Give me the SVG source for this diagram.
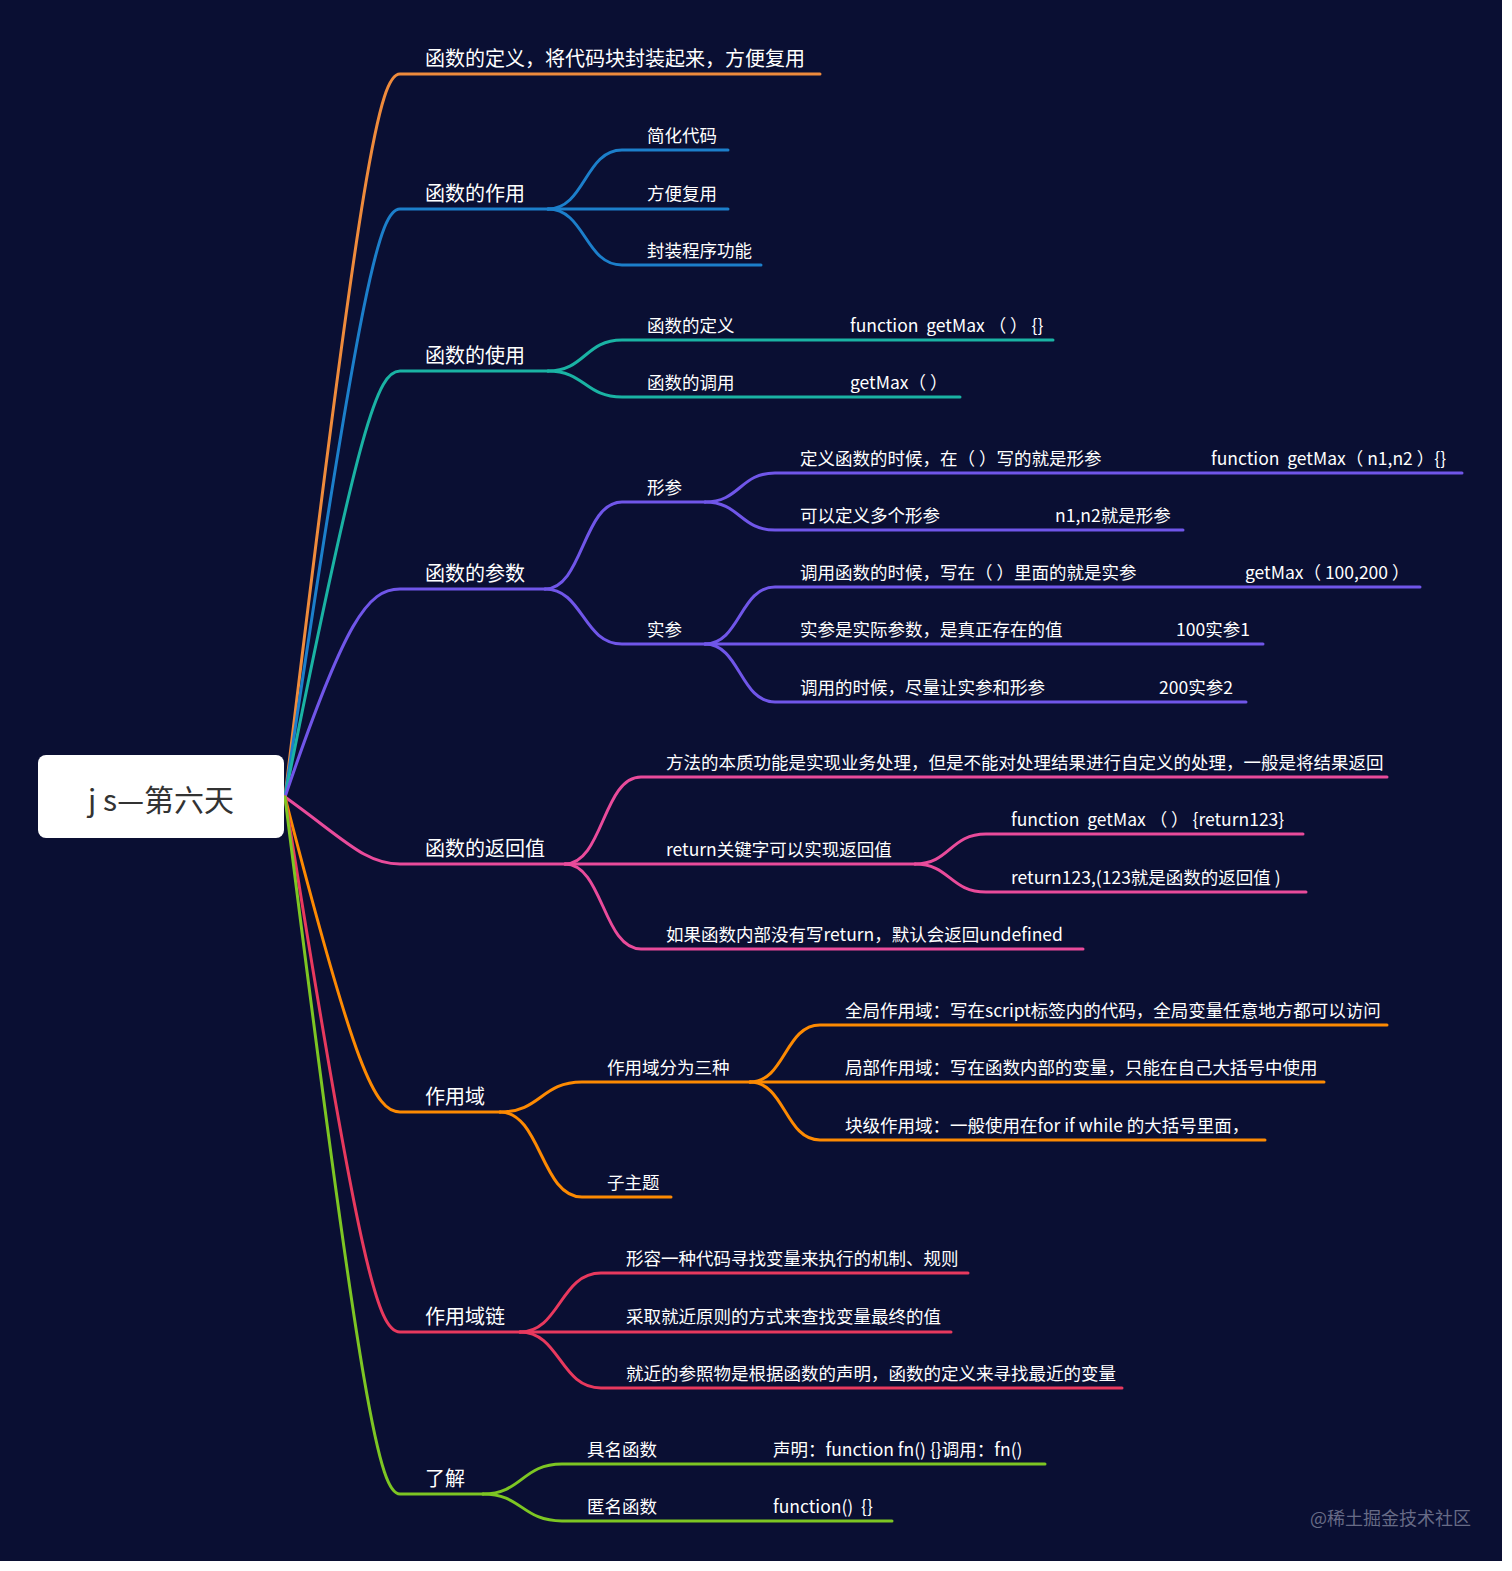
<svg xmlns="http://www.w3.org/2000/svg" width="1512" height="1571" viewBox="0 0 1512 1571">
<style>
text{font-family:"Noto Sans CJK SC","Noto Sans",sans-serif;fill:#ffffff;white-space:pre}
.l1{font-size:20px}
.l2{font-size:17.5px}
.root{font-size:30px;fill:#333333;text-anchor:middle}
.wm{font-size:18px;fill:#676b86}
path{fill:none;stroke-width:3;stroke-linecap:round;stroke-linejoin:round}
.c1{stroke:#ef8b3c}.c2{stroke:#1c7fcb}.c3{stroke:#1ab3a4}.c4{stroke:#7056e9}
.c5{stroke:#e94b9b}.c6{stroke:#fd8a02}.c7{stroke:#e8395e}.c8{stroke:#7dc623}
</style>
<rect x="0" y="0" width="1512" height="1571" fill="#ffffff"/>
<rect x="0" y="0" width="1502" height="1561" fill="#0a0f33"/>
<g id="connectors">
<path class="c1" d="M285,797 C362,155 380,74 400,74 H820"/>
<path class="c2" d="M285,797 C362,275 380,209 400,209 H548"/>
<path class="c2" d="M548,209 C585,209 585,150 622,150 H728"/>
<path class="c2" d="M548,209 H728"/>
<path class="c2" d="M548,209 C585,209 585,265 622,265 H761"/>
<path class="c3" d="M285,797 C360,420 378,371 400,371 H548"/>
<path class="c3" d="M548,371 C585,371 585,340 622,340 H1053"/>
<path class="c3" d="M548,371 C585,371 585,397 622,397 H960"/>
<path class="c4" d="M285,797 C345,620 368,589 400,589 H545"/>
<path class="c4" d="M545,589 C583,589 583,502 622,502 H705"/>
<path class="c4" d="M545,589 C583,589 583,644 622,644 H705"/>
<path class="c4" d="M705,502 C740,502 740,473 775,473 H1462"/>
<path class="c4" d="M705,502 C740,502 740,530 775,530 H1183"/>
<path class="c4" d="M705,644 C740,644 740,587 775,587 H1420"/>
<path class="c4" d="M705,644 H1263"/>
<path class="c4" d="M705,644 C740,644 740,702 775,702 H1246"/>
<path class="c5" d="M285,797 C345,840 365,864 400,864 H565"/>
<path class="c5" d="M565,864 C603,864 603,777 641,777 H1387"/>
<path class="c5" d="M565,864 H915"/>
<path class="c5" d="M565,864 C603,864 603,949 641,949 H1083"/>
<path class="c5" d="M915,864 C950,864 950,834 986,834 H1303"/>
<path class="c5" d="M915,864 C950,864 950,892 986,892 H1306"/>
<path class="c6" d="M285,797 C355,1070 375,1112 400,1112 H500"/>
<path class="c6" d="M500,1112 C541,1112 541,1082 582,1082 H750"/>
<path class="c6" d="M500,1112 C541,1112 541,1197 582,1197 H671"/>
<path class="c6" d="M750,1082 C785,1082 785,1025 820,1025 H1387"/>
<path class="c6" d="M750,1082 H1324"/>
<path class="c6" d="M750,1082 C785,1082 785,1140 820,1140 H1265"/>
<path class="c7" d="M285,797 C360,1270 378,1332 400,1332 H520"/>
<path class="c7" d="M520,1332 C560,1332 560,1273 601,1273 H968"/>
<path class="c7" d="M520,1332 H951"/>
<path class="c7" d="M520,1332 C560,1332 560,1388 601,1388 H1122"/>
<path class="c8" d="M285,797 C362,1415 380,1494 400,1494 H483"/>
<path class="c8" d="M483,1494 C522,1494 522,1464 562,1464 H1045"/>
<path class="c8" d="M483,1494 C522,1494 522,1521 562,1521 H892"/>
</g>
<g id="root">
<rect x="38" y="755" width="246" height="83" rx="8" fill="#ffffff"/>
<text class="root" x="161" y="811">j s—第六天</text>
</g>
<g id="n-def"><text class="l1" x="425" y="66">函数的定义，将代码块封装起来，方便复用</text></g>
<g id="n-role"><text class="l1" x="425" y="201">函数的作用</text></g>
<g id="n-role-1"><text class="l2" x="647" y="142">简化代码</text></g>
<g id="n-role-2"><text class="l2" x="647" y="200">方便复用</text></g>
<g id="n-role-3"><text class="l2" x="647" y="257">封装程序功能</text></g>
<g id="n-use"><text class="l1" x="425" y="363">函数的使用</text></g>
<g id="n-use-1"><text class="l2" x="647" y="332">函数的定义</text><text class="l2" x="850" y="332">function  getMax （ ） {}</text></g>
<g id="n-use-2"><text class="l2" x="647" y="389">函数的调用</text><text class="l2" x="850" y="389">getMax（ ）</text></g>
<g id="n-param"><text class="l1" x="425" y="581">函数的参数</text></g>
<g id="n-formal"><text class="l2" x="647" y="494">形参</text></g>
<g id="n-formal-1"><text class="l2" x="800" y="465">定义函数的时候，在（ ）写的就是形参</text><text class="l2" x="1211" y="465">function  getMax（ n1,n2 ）{}</text></g>
<g id="n-formal-2"><text class="l2" x="800" y="522">可以定义多个形参</text><text class="l2" x="1055" y="522">n1,n2就是形参</text></g>
<g id="n-actual"><text class="l2" x="647" y="636">实参</text></g>
<g id="n-actual-1"><text class="l2" x="800" y="579">调用函数的时候，写在（ ）里面的就是实参</text><text class="l2" x="1245" y="579">getMax（ 100,200 ）</text></g>
<g id="n-actual-2"><text class="l2" x="800" y="636">实参是实际参数，是真正存在的值</text><text class="l2" x="1176" y="636">100实参1</text></g>
<g id="n-actual-3"><text class="l2" x="800" y="694">调用的时候，尽量让实参和形参</text><text class="l2" x="1159" y="694">200实参2</text></g>
<g id="n-return"><text class="l1" x="425" y="856">函数的返回值</text></g>
<g id="n-return-1"><text class="l2" x="666" y="769">方法的本质功能是实现业务处理，但是不能对处理结果进行自定义的处理，一般是将结果返回</text></g>
<g id="n-return-2"><text class="l2" x="666" y="856">return关键字可以实现返回值</text></g>
<g id="n-return-2a"><text class="l2" x="1011" y="826">function  getMax （ ） {return123}</text></g>
<g id="n-return-2b"><text class="l2" x="1011" y="884">return123,(123就是函数的返回值 )</text></g>
<g id="n-return-3"><text class="l2" x="666" y="941">如果函数内部没有写return，默认会返回undefined</text></g>
<g id="n-scope"><text class="l1" x="425" y="1104">作用域</text></g>
<g id="n-scope-1"><text class="l2" x="607" y="1074">作用域分为三种</text></g>
<g id="n-scope-1a"><text class="l2" x="845" y="1017">全局作用域：写在script标签内的代码，全局变量任意地方都可以访问</text></g>
<g id="n-scope-1b"><text class="l2" x="845" y="1074">局部作用域：写在函数内部的变量，只能在自己大括号中使用</text></g>
<g id="n-scope-1c"><text class="l2" x="845" y="1132">块级作用域：一般使用在for if while 的大括号里面，</text></g>
<g id="n-scope-2"><text class="l2" x="607" y="1189">子主题</text></g>
<g id="n-chain"><text class="l1" x="425" y="1324">作用域链</text></g>
<g id="n-chain-1"><text class="l2" x="626" y="1265">形容一种代码寻找变量来执行的机制、规则</text></g>
<g id="n-chain-2"><text class="l2" x="626" y="1323">采取就近原则的方式来查找变量最终的值</text></g>
<g id="n-chain-3"><text class="l2" x="626" y="1380">就近的参照物是根据函数的声明，函数的定义来寻找最近的变量</text></g>
<g id="n-know"><text class="l1" x="425" y="1486">了解</text></g>
<g id="n-know-1"><text class="l2" x="587" y="1456">具名函数</text><text class="l2" x="773" y="1456">声明：function fn() {}调用：fn()</text></g>
<g id="n-know-2"><text class="l2" x="587" y="1513">匿名函数</text><text class="l2" x="773" y="1513">function()  {}</text></g>
<text class="wm" x="1310" y="1525">@稀土掘金技术社区</text>
</svg>
